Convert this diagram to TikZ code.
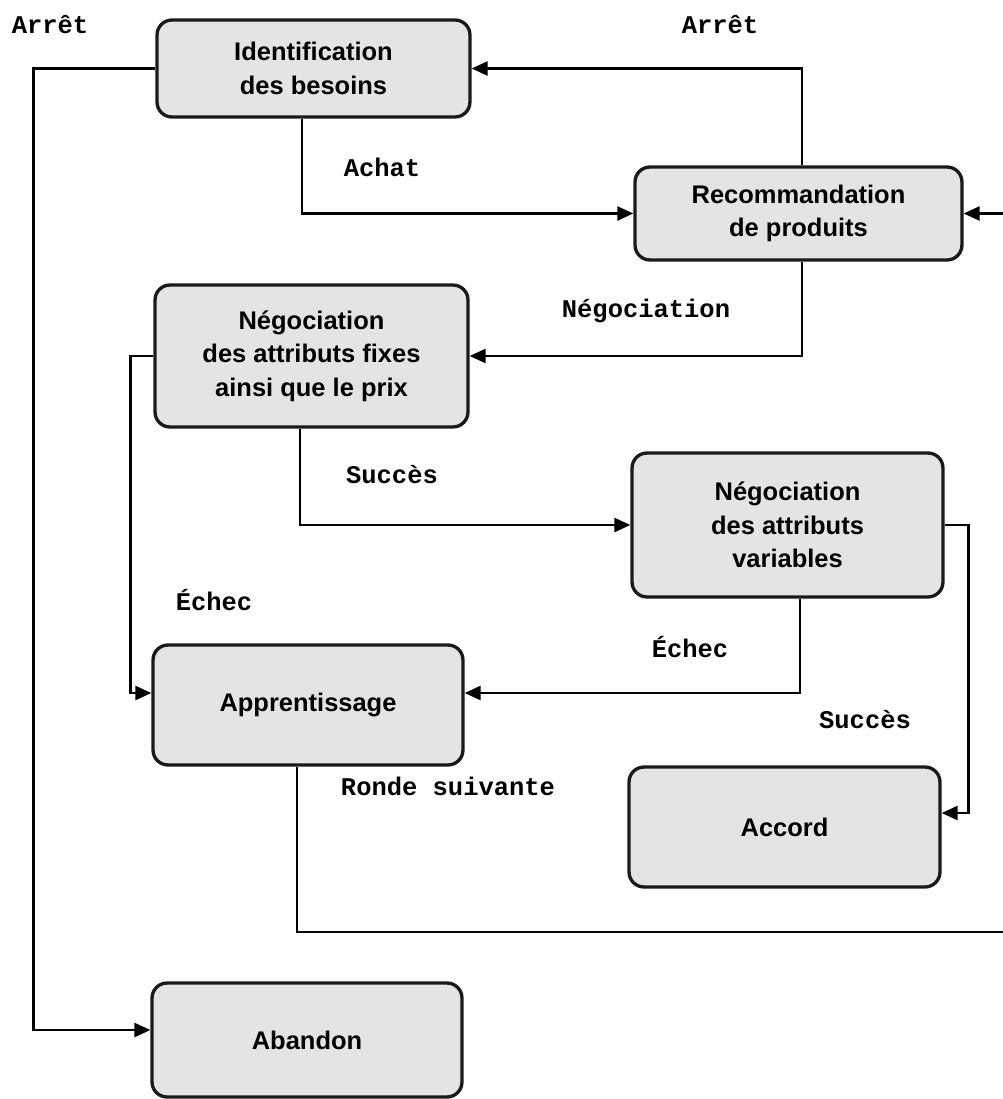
\documentclass[tikz,border=0pt]{standalone}
\usepackage{fontspec}
\setmainfont{Liberation Sans}
\setmonofont{Liberation Mono}
\usetikzlibrary{arrows.meta,calc}

\definecolor{boxfill}{HTML}{E4E4E4}
\definecolor{boxline}{HTML}{1A1A1A}

\begin{document}
\begin{tikzpicture}[
  x=0.02cm, y=-0.02cm,
  stepbox/.style={draw=boxline, fill=boxfill, line width=1.9pt,
    rounded corners=0.3cm, align=center, inner sep=0pt,
    font=\fontsize{14.5pt}{19pt}\selectfont\bfseries},
  lbl/.style={font=\fontsize{14.5pt}{17pt}\selectfont\ttfamily\bfseries, inner sep=0pt},
  arr/.style={line width=1.4pt, -{Triangle[length=0.32cm,width=0.28cm]}}
]
\useasboundingbox (0,0) rectangle (1003,1099);

% process boxes
\node[stepbox, minimum width=6.26cm, minimum height=1.94cm] (ident) at (313.5,68.5)
  {Identification\\des besoins};
\node[stepbox, minimum width=6.54cm, minimum height=1.86cm] (reco) at (798.5,213.5)
  {Recommandation\\de produits};
\node[stepbox, minimum width=6.26cm, minimum height=2.84cm] (negfix) at (311.5,356)
  {Négociation\\des attributs fixes\\ainsi que le prix};
\node[stepbox, minimum width=6.22cm, minimum height=2.88cm] (negvar) at (787.5,525)
  {Négociation\\des attributs\\variables};
\node[stepbox, minimum width=6.2cm, minimum height=2.4cm] (appr) at (308,705)
  {Apprentissage};
\node[stepbox, minimum width=6.22cm, minimum height=2.4cm] (accord) at (784.5,827)
  {Accord};
\node[stepbox, minimum width=6.2cm, minimum height=2.28cm] (abandon) at (307,1040)
  {Abandon};

% connectors
\draw[arr] ([xshift=0.07cm]reco.north) |- (ident.east);
\draw[arr] ([xshift=-0.23cm]ident.south) |- (reco.west);
\draw[arr] ([xshift=0.07cm]reco.south) |- (negfix.east);
\draw[arr] ([xshift=-0.23cm]negfix.south) |- (negvar.west);
\draw[arr] (negfix.west) -- ++(-23,0) |- ([yshift=0.24cm]appr.west);
\draw[arr] ([xshift=0.25cm]negvar.south) |- ([yshift=0.24cm]appr.east);
\draw[arr] (negvar.east) -- ++(24,0) |- ([yshift=0.28cm]accord.east);
\coordinate (loopR) at (1012,932);
\draw[arr] ([xshift=-0.22cm]appr.south) |- (loopR) |- (reco.east);
\draw[arr] (ident.west) -- ++(-122,0) |- ([yshift=0.2cm]abandon.west);

% transition labels
\node[lbl] (tArretL) at (50,25) {Arrêt};
\node[lbl] (tArretR) at (720,25) {Arrêt};
\node[lbl] (tAchat) at (382,167) {Achat};
\node[lbl] (tNego) at (646,311) {Négociation};
\node[lbl] (tSuccesA) at (392,475) {Succès};
\node[lbl] (tEchecL) at (214,600) {Échec};
\node[lbl] (tEchecR) at (690,647) {Échec};
\node[lbl] (tSuccesB) at (865,720) {Succès};
\node[lbl] (tRonde) at (448,786) {Ronde suivante};
\end{tikzpicture}
\end{document}
